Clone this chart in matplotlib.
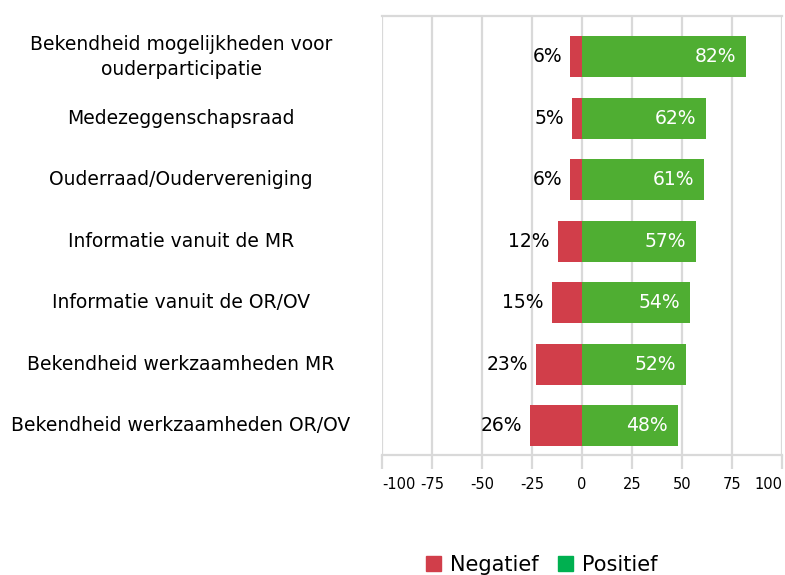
import matplotlib.pyplot as plt
import matplotlib.transforms as mtransforms
from matplotlib.patches import Patch

# Data
categorieen = [
    "Bekendheid mogelijkheden voor\nouderparticipatie",
    "Medezeggenschapsraad",
    "Ouderraad/Oudervereniging",
    "Informatie vanuit de MR",
    "Informatie vanuit de OR/OV",
    "Bekendheid werkzaamheden MR",
    "Bekendheid werkzaamheden OR/OV",
]
negatief = [6, 5, 6, 12, 15, 23, 26]
positief = [82, 62, 61, 57, 54, 52, 48]
xticks = [-100, -75, -50, -25, 0, 25, 50, 75, 100]

rood = "#d13e4a"
groen = "#4fae32"
groen_legenda = "#00b050"
grijs = "#d9d9d9"

plt.rcParams['font.family'] = ['DejaVu Sans']

fig = plt.figure(figsize=(7.85, 5.75), dpi=100)
ax = fig.add_axes([382 / 785, 120 / 575, 400 / 785, 439 / 575])

y = list(range(len(categorieen)))
ax.barh(y, [-v for v in negatief], height=0.667, color=rood, zorder=3)
ax.barh(y, positief, height=0.667, color=groen, zorder=3)

for i in y:
    ax.text(-negatief[i] - 4, i, f"{negatief[i]}%", ha='right', va='center',
            fontsize=13.5, color='black')
    ax.text(positief[i] - 5, i, f"{positief[i]}%", ha='right', va='center',
            fontsize=13.5, color='white')

ax.set_xlim(-100, 100)
ax.set_ylim(6.477, -0.666)
ax.set_xticks(xticks)
ax.set_xticklabels([str(t) for t in xticks], fontsize=10.5)
labels = ax.get_xticklabels()
labels[0].set_ha('left')
labels[-1].set_ha('right')
ax.set_yticks([])
ax.grid(axis='x', color=grijs, linewidth=1.6, zorder=0)
for s in ['right', 'left']:
    ax.spines[s].set_visible(False)
for s in ['bottom', 'top']:
    ax.spines[s].set_color(grijs)
    ax.spines[s].set_linewidth(1.6)
ax.tick_params(axis='x', color=grijs, width=1.6, length=10, pad=6)

# category labels centered left of the axes
trans = mtransforms.blended_transform_factory(fig.transFigure, ax.transData)
for i, c in enumerate(categorieen):
    fig.text(181 / 785, i, c, transform=trans, ha='center', va='center',
             fontsize=13.5, linespacing=1.35)

handles = [Patch(color=rood, label="Negatief"), Patch(color=groen_legenda, label="Positief")]
fig.legend(handles=handles, loc='center', bbox_to_anchor=(542 / 785, 10 / 575), ncol=2,
           frameon=False, fontsize=15, handlelength=0.7, handleheight=0.7,
           handletextpad=0.45, columnspacing=0.95)

fig.savefig("out.png", dpi=100)
